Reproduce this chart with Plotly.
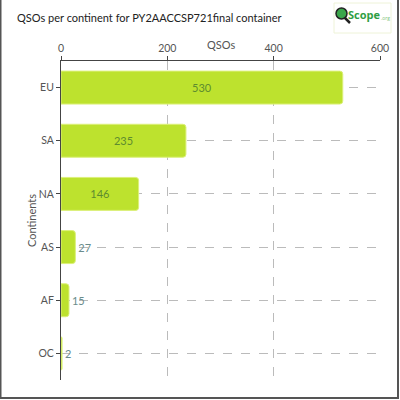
import plotly.graph_objects as go

continents = ["EU", "SA", "NA", "AS", "AF", "OC"]
qsos = [530, 235, 146, 27, 15, 2]
x_ticks = [0, 200, 400, 600]

L, R, T, B = 61, 20, 61, 20
W = H = 400
pw = W - L - R
ph = H - T - B

def px(x):
    return (x - L) / pw

def py(y):
    return (H - B - y) / ph

fig = go.Figure(go.Bar(
    x=qsos, y=continents, orientation="h",
    marker=dict(color="#bde22e", line=dict(color="#dcf07a", width=1), cornerradius=3),
    width=0.62,
    text=[str(v) for v in qsos],
    textposition="auto",
    insidetextanchor="middle",
    insidetextfont=dict(color="#5e8c2e", size=11, family="Lato"),
    outsidetextfont=dict(color="#6a8c8c", size=11, family="Lato"),
    cliponaxis=False,
    hoverinfo="skip",
))

fig.update_layout(
    width=W, height=H,
    margin=dict(l=L, r=R, t=T, b=B, autoexpand=False),
    paper_bgcolor="white", plot_bgcolor="white",
    font=dict(family="Lato", color="#555555", size=11),
    showlegend=False,
    title=dict(text="QSOs per continent for PY2AACCSP721final container",
               x=17 / W, xanchor="left", y=1 - 18 / H, yanchor="middle",
               font=dict(size=11, color="#222222", family="Lato")),
    xaxis=dict(side="top", range=[0, 600], tickvals=x_ticks, ticktext=[str(t) for t in x_ticks],
               automargin=False, tickfont=dict(size=10.5),
               showline=True, linecolor="#444444", linewidth=1,
               ticks="outside", ticklen=4, tickcolor="#444444",
               showgrid=True, gridcolor="#bbbbbb", griddash="dash", gridwidth=1,
               zeroline=False),
    yaxis=dict(autorange="reversed", categoryorder="array", categoryarray=continents,
               automargin=False, tickfont=dict(size=10.5),
               showline=True, linecolor="#444444", linewidth=1,
               ticks="outside", ticklen=4, tickcolor="#444444",
               showgrid=True, gridcolor="#bbbbbb", griddash="dash", gridwidth=1),
    shapes=[
        dict(type="rect", xref="paper", yref="paper",
             x0=px(0.5), x1=px(398), y0=py(398), y1=py(-2),
             line=dict(color="#555555", width=2), fillcolor="rgba(0,0,0,0)", layer="above"),
        dict(type="rect", xref="paper", yref="paper",
             x0=px(334), x1=px(391), y0=py(33), y1=py(3),
             line=dict(color="#eef3d8", width=1), fillcolor="white"),
        dict(type="line", xref="paper", yref="paper",
             x0=px(344), x1=px(350), y0=py(17), y1=py(23),
             line=dict(color="#222222", width=2.5)),
        dict(type="circle", xref="paper", yref="paper",
             x0=px(336), x1=px(347), y0=py(19), y1=py(8),
             line=dict(color="#222222", width=1.5), fillcolor="#3aa64a"),
    ],
    annotations=[
        dict(text="QSOs", xref="paper", yref="paper", x=px(221), y=py(44),
             xanchor="center", yanchor="middle", showarrow=False,
             font=dict(size=11, color="#555555")),
        dict(text="Continents", xref="paper", yref="paper", x=px(32), y=py(221),
             xanchor="center", yanchor="middle", showarrow=False, textangle=-90,
             font=dict(size=11, color="#555555")),
        dict(text="<b>Scope</b>", xref="paper", yref="paper", x=px(346), y=py(14),
             xanchor="left", yanchor="middle", showarrow=False,
             font=dict(size=11, color="#2f9e44", family="Open Sans")),
        dict(text=".org", xref="paper", yref="paper", x=px(379), y=py(18),
             xanchor="left", yanchor="middle", showarrow=False,
             font=dict(size=5, color="#7cc47c", family="Open Sans")),
    ],
)

fig.write_html("out.html", config={"displayModeBar": False},
               post_script="document.body.style.margin='0';document.body.style.padding='0';")
